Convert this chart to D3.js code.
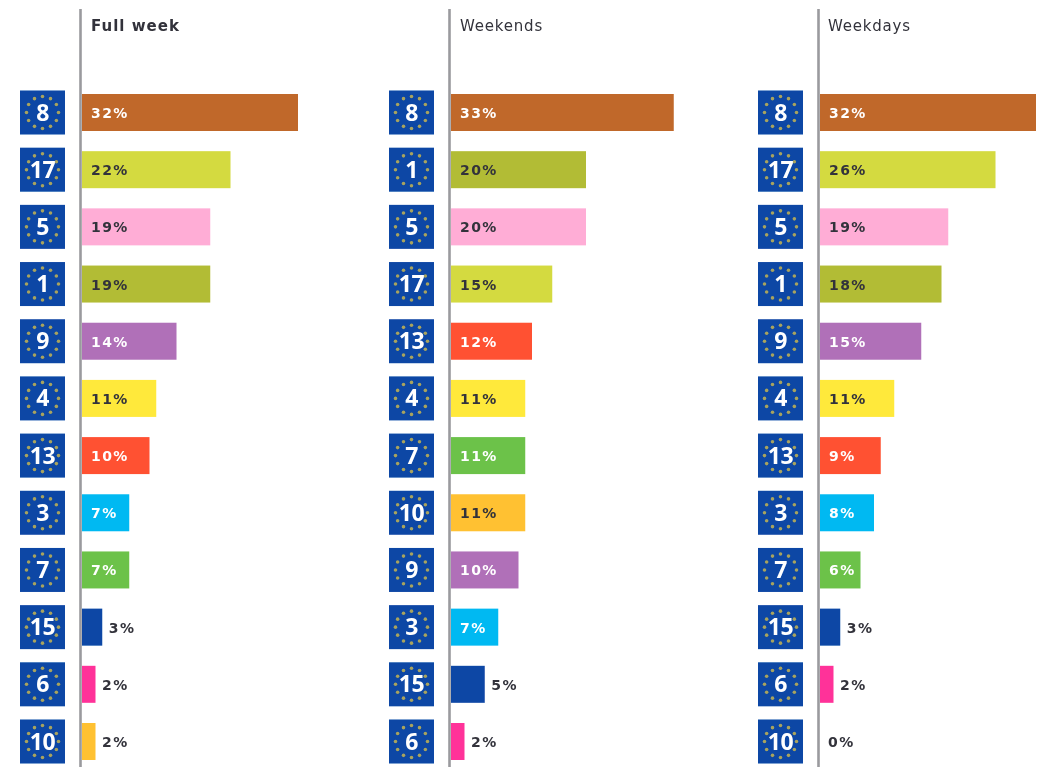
<!DOCTYPE html>
<html><head><meta charset="utf-8">
<script src="https://cdn.jsdelivr.net/npm/d3@7"></script>
<style>html,body{margin:0;padding:0;background:#fff;overflow:hidden}svg{display:block}
text{font-family:"DejaVu Sans",sans-serif}</style></head>
<body><svg id="c" width="1040" height="767"></svg>
<script>
const panelTitles = ["Full week","Weekends","Weekdays"];
const fullWeekCodes = [8,17,5,1,9,4,13,3,7,15,6,10];
const fullWeekValues = [32,22,19,19,14,11,10,7,7,3,2,2];
const weekendCodes = [8,1,5,17,13,4,7,10,9,3,15,6];
const weekendValues = [33,20,20,15,12,11,11,11,10,7,5,2];
const weekdayCodes = [8,17,5,1,9,4,13,3,7,15,6,10];
const weekdayValues = [32,26,19,18,15,11,9,8,6,3,2,0];
const colorCodes = [8,17,5,1,9,4,13,3,7,15,6,10];
const colorValues = ["#C0672A","#D4DA3F","#FFADD6","#B2BC35","#B06FB8","#FFE93A","#FF5133","#00B9F2","#6CC24A","#0A46A5","#FF3399","#FFC130"];
const whiteLabelCodes = [8,9,13,3,7];

const panels = [[fullWeekCodes,fullWeekValues],[weekendCodes,weekendValues],[weekdayCodes,weekdayValues]];
const color = d3.scaleOrdinal(colorCodes,colorValues);
const svg = d3.select("#c");
const defs = svg.append("defs");
defs.append("filter").attr("id","soft").attr("filterUnits","userSpaceOnUse")
  .attr("x",0).attr("y",0).attr("width",1040).attr("height",767)
  .append("feGaussianBlur").attr("stdDeviation",0.6);
const root = svg.append("g").attr("filter","url(#soft)");

const panelX = d3.scalePoint().domain(d3.range(3)).range([80,818]);
const y = d3.scalePoint().domain(d3.range(12)).range([112.5,741.5]);
const x = d3.scaleLinear().domain([0,32]).range([0,216]);
const navy = "#0A46A5", ink = "#33333B";

panels.forEach(([codes,values],p)=>{
  const g = root.append("g").attr("transform",`translate(${panelX(p)},0)`);
  g.append("line").attr("x1",0.5).attr("x2",0.5).attr("y1",9).attr("y2",767)
    .attr("stroke","#9a9a9e").attr("stroke-width",2.6);
  g.append("text").attr("x",p===2?10:11).attr("y",31).attr("font-size",15)
    .attr("letter-spacing",p===0?1:0.8)
    .attr("font-weight",p===0?700:400).attr("fill",ink).text(panelTitles[p]);
  const row = g.selectAll("g.row").data(codes).join("g").attr("class","row")
    .attr("transform",(d,i)=>`translate(0,${y(i)})`);
  row.filter((d,i)=>values[i]>0).append("rect")
    .attr("x",2).attr("y",-18.5).attr("height",37)
    .attr("width",d=>x(values[codes.indexOf(d)]))
    .attr("fill",d=>color(d));
  row.append("text").attr("y",5.5).attr("font-size",14).attr("font-weight",700)
    .attr("letter-spacing",1.4)
    .attr("x",(d,i)=>{const v=values[i];return v===0?10:v>=6?11:x(v)+8.5;})
    .attr("fill",(d,i)=>values[i]>=6&&whiteLabelCodes.includes(d)?"#fff":ink)
    .text((d,i)=>values[i]+"%");
  const badge = row.append("g").attr("transform","translate(-60,-22)");
  badge.append("rect").attr("width",45).attr("height",44).attr("fill",navy);
  d3.range(12).forEach(k=>{
    const a = k/12*2*Math.PI;
    badge.append("circle").attr("cx",22.5+16*Math.sin(a)).attr("cy",22-16*Math.cos(a))
      .attr("r",1.8).attr("fill","#A8A35E");
  });
  badge.append("text").attr("x",22.5).attr("y",30).attr("text-anchor","middle")
    .style("font-family","'Open Sans',sans-serif")
    .attr("font-size",23).attr("font-weight",700).attr("fill","#fff")
    .attr("letter-spacing",-0.5).text(d=>d);
});
</script></body></html>
